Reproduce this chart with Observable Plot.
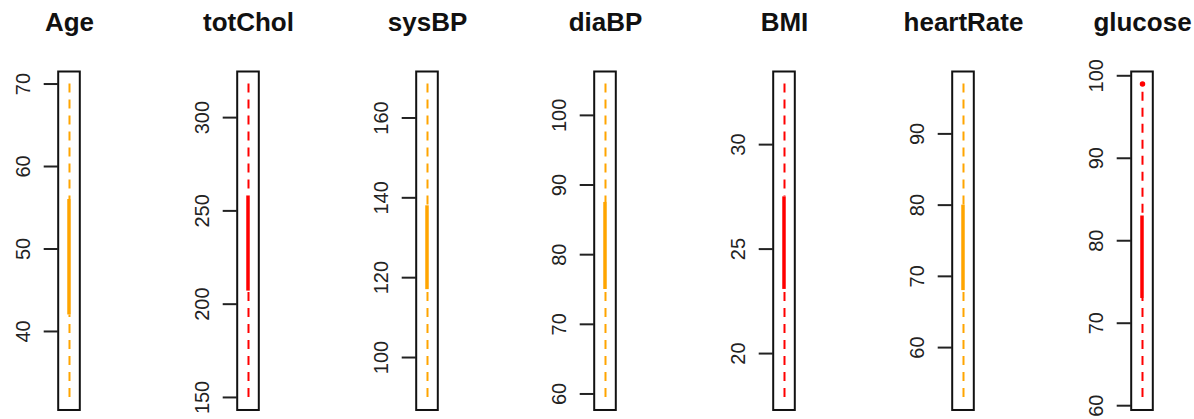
<!DOCTYPE html>
<html><head><meta charset="utf-8">
<script src="https://cdn.jsdelivr.net/npm/d3@7"></script>
<script src="https://cdn.jsdelivr.net/npm/@observablehq/plot@0.6"></script>
<style>
html,body{margin:0;padding:0;background:#fff;}
#chart{position:relative;width:1194px;height:419px;overflow:hidden;background:#fff;}
#chart svg{position:absolute;top:0;}
</style></head><body><div id="chart"></div>
<script>
const variables = ["Age", "totChol", "sysBP", "diaBP", "BMI", "heartRate", "glucose"];
const whiskerLow = [32, 150, 90, 59.5, 17.9, 53, 61];
const boxQ1 = [42, 207, 117, 75, 23.07, 68, 73];
const boxQ3 = [56, 258, 138, 87.5, 27.5, 80, 83];
const whiskerHigh = [70, 318, 168.5, 104.5, 32.9, 97, 98];
const outliers = [[], [], [], [], [], [], [99]];
const boxColors = ["orange", "red", "orange", "orange", "red", "orange", "red"];
const tickValues = [
  [40, 50, 60, 70],
  [150, 200, 250, 300],
  [100, 120, 140, 160],
  [60, 70, 80, 90, 100],
  [20, 25, 30],
  [60, 70, 80, 90],
  [60, 70, 80, 90, 100]
];

const chart = document.getElementById("chart");
const pitch = 178.8;
const panelW = 178.8;
const font = "'Liberation Sans', Arial, sans-serif";

variables.forEach((name, i) => {
  const row = {name, lo: whiskerLow[i], q1: boxQ1[i], q3: boxQ3[i], hi: whiskerHigh[i]};
  const outs = outliers[i].map(v => ({name, v}));
  const all = [row.lo, row.hi, ...outliers[i]];
  const mn = d3.min(all), mx = d3.max(all);
  const pad = (mx - mn) * 0.04;
  const color = boxColors[i];
  const svg = Plot.plot({
    width: panelW,
    height: 419,
    marginTop: 71,
    marginBottom: 9.5,
    marginLeft: 57.7,
    marginRight: panelW - 57.7 - 21.6,
    style: {fontFamily: font, background: "transparent", overflow: "visible"},
    x: {type: "point", domain: [name], axis: null},
    y: {domain: [mn - pad, mx + pad], axis: null},
    marks: [
      Plot.axisY({ticks: tickValues[i], tickSize: 14, tickPadding: 14, tickRotate: -90,
        fontSize: 20, strokeWidth: 2, stroke: "#222", fill: "#222", label: null}),
      Plot.ruleX([row], {x: "name", y1: "lo", y2: "q1", stroke: color, strokeWidth: 2, strokeDasharray: "9,7"}),
      Plot.ruleX([row], {x: "name", y1: "hi", y2: "q3", stroke: color, strokeWidth: 2, strokeDasharray: "9,7"}),
      Plot.ruleX([row], {x: "name", y1: "q1", y2: "q3", stroke: color, strokeWidth: 3.5, dx: -0.5}),
      Plot.dot(outs, {x: "name", y: "v", r: 2, stroke: color, strokeWidth: 1.5, fill: color}),
      Plot.frame({stroke: "#111", strokeWidth: 2}),
      Plot.text([row], {x: "name", frameAnchor: "top", text: "name", lineAnchor: "bottom", dy: -40,
        fontSize: 26, fontWeight: "bold", fill: "#111", fontFamily: font})
    ]
  });
  svg.style.left = (i * pitch) + "px";
  chart.appendChild(svg);
});
</script>
</body></html>
